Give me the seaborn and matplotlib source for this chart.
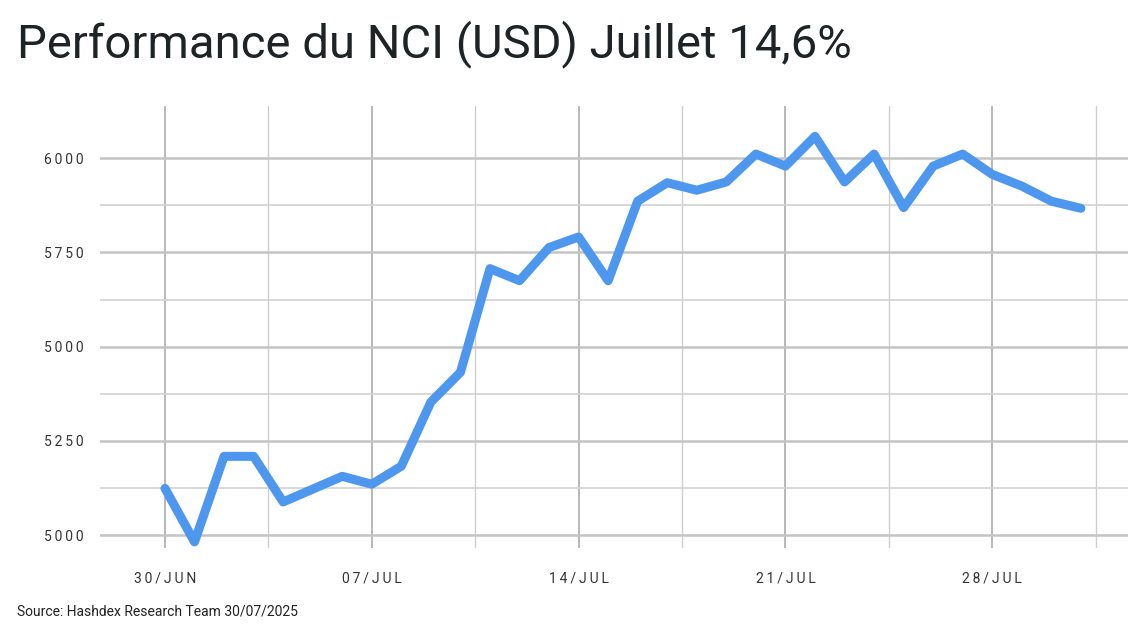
# -----------------------------
# 1. Import Libraries
# -----------------------------
import pandas as pd
import seaborn as sns
import matplotlib.pyplot as plt

# -----------------------------
# 2. Data
# -----------------------------
dates = pd.date_range("2025-06-30", "2025-07-31", freq="D")
nci_values = [5124, 4982, 5209, 5209, 5088, 5122, 5156, 5135, 5183, 5353,
              5432, 5707, 5675, 5763, 5791, 5675, 5886, 5935, 5915, 5937,
              6011, 5979, 6058, 5937, 6011, 5869, 5979, 6011, 5957, 5926,
              5886, 5867]

y_ticks = [5000, 5250, 5500, 5750, 6000]
y_tick_labels = ["5000", "5250", "5000", "5750", "6000"]  # as printed on the original
x_tick_dates = ["2025-06-30", "2025-07-07", "2025-07-14", "2025-07-21", "2025-07-28"]
x_tick_labels = ["30/JUN", "07/JUL", "14/JUL", "21/JUL", "28/JUL"]

title = "Performance du NCI (USD) Juillet 14,6%"
source = "Source: Hashdex Research Team 30/07/2025"

df = pd.DataFrame({"date": dates, "nci": nci_values})


def spaced(s):
    # loose letter spacing like the original axis labels
    return "\u2009".join(s)


# -----------------------------
# 3. Style
# -----------------------------
sns.set_theme(style="white")
plt.rcParams["font.family"] = ["Roboto", "DejaVu Sans"]

# -----------------------------
# 4. Line chart
# -----------------------------
fig = plt.figure(figsize=(11.45, 6.32), dpi=100)
ax = fig.add_axes([0.0873, 0.133, 0.898, 0.699])

sns.lineplot(data=df, x="date", y="nci", ax=ax, color="#4e97ee",
             linewidth=6.5, solid_joinstyle="round", solid_capstyle="round")

x0 = pd.Timestamp("2025-06-30")
day = pd.Timedelta(days=1)
ax.set_xlim(x0 - 2.2 * day, x0 + 32.6 * day)
ax.set_ylim(4966, 6138)

ax.set_xticks(pd.to_datetime(x_tick_dates))
ax.set_xticklabels([spaced(t) for t in x_tick_labels])
ax.set_xticks(pd.to_datetime(x_tick_dates) + 3.5 * day, minor=True)
ax.set_yticks(y_ticks)
ax.set_yticklabels([spaced(t) for t in y_tick_labels])
ax.set_yticks([v + 125 for v in y_ticks[:-1]], minor=True)

ax.grid(axis="x", which="major", color="#ababab", linewidth=1.2)
ax.grid(axis="x", which="minor", color="#cfcfcf", linewidth=1.0)
ax.grid(axis="y", which="major", color="#c4c4c4", linewidth=1.8)
ax.grid(axis="y", which="minor", color="#d2d2d2", linewidth=1.2)
ax.set_axisbelow(True)

ax.tick_params(axis="both", which="both", length=0, colors="#333333", labelsize=10)
ax.tick_params(axis="x", pad=17)
ax.tick_params(axis="y", pad=12)
for s in ax.spines.values():
    s.set_visible(False)
ax.set_xlabel("")
ax.set_ylabel("")

fig.text(0.015, 0.968, title, fontsize=34, color="#1e2326", va="top", ha="left")
fig.text(0.015, 0.033, source, fontsize=10, color="#222222", va="center", ha="left")

plt.savefig("out.png", dpi=100)
